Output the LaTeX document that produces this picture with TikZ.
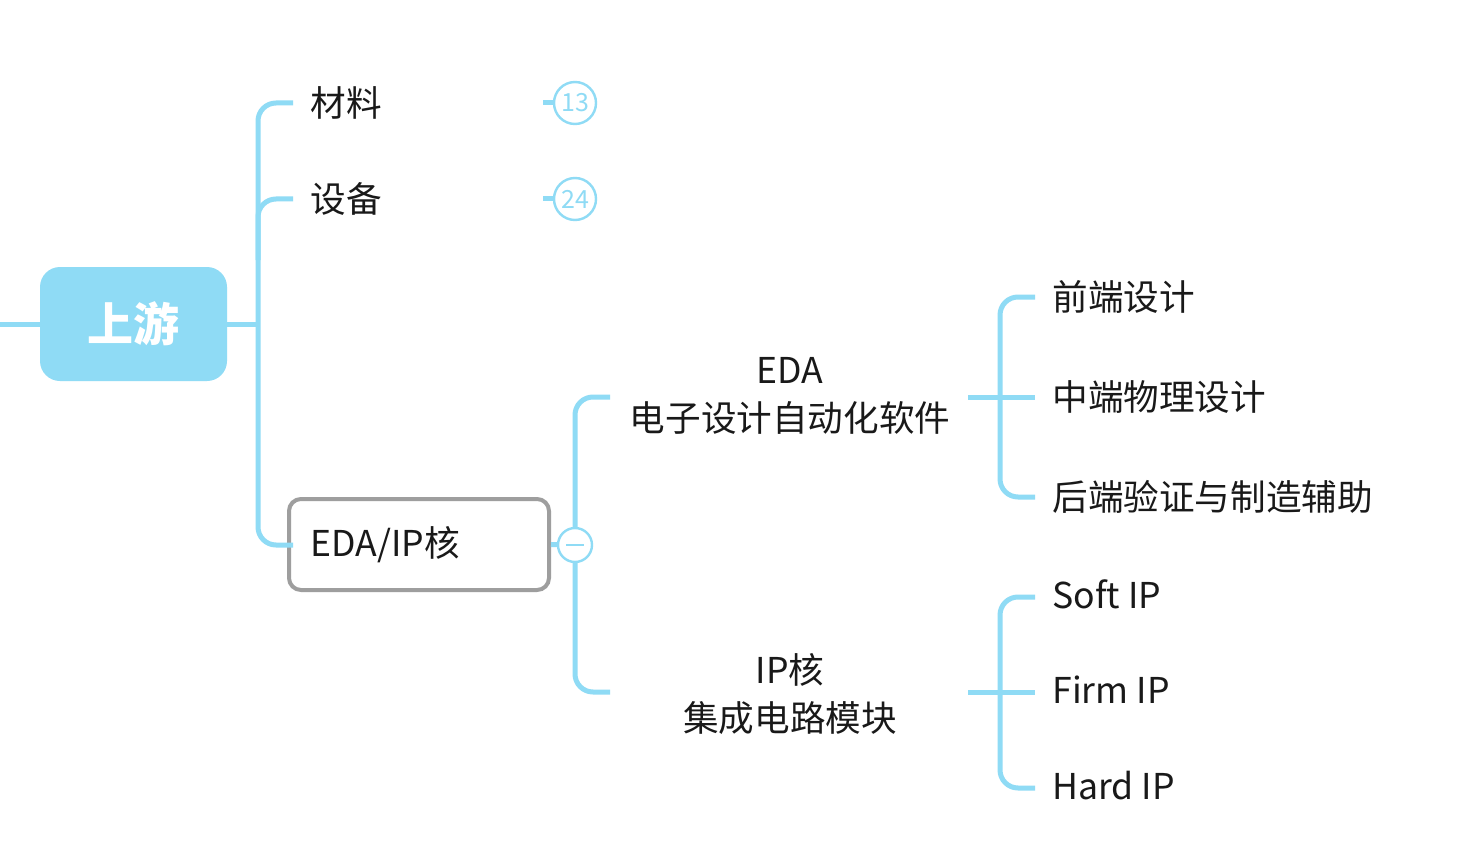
\documentclass[tikz,border=0pt]{standalone}
\usepackage{fontspec}
\setmainfont{Noto Sans CJK SC}
\begin{document}
\begin{tikzpicture}[x=0.5pt,y=-0.5pt,
  ln/.style={draw=lb,line width=2.5pt,rounded corners=9pt},
  txt/.style={font=\fontsize{17.8}{20}\selectfont,anchor=west,inner sep=0pt,text=black!90},
  mid/.style={font=\fontsize{17.8}{24}\selectfont,align=center,inner sep=0pt,text=black!90}]
\definecolor{lb}{HTML}{8FDBF5}
\useasboundingbox (0,0) rectangle (1460,850);
\fill[white] (0,0) rectangle (1460,850);
% root
\node[fill=lb,rounded corners=10pt,minimum width=93.5pt,minimum height=57pt,inner sep=0pt,text=white,font=\fontsize{23}{24}\selectfont\bfseries] (root) at (133.5,324) {上游};
\coordinate (L) at (0,324);
\draw[ln] (L) -- (root.west);
% level 1
\node[txt] (mat) at (310,103) {材料};
\node[txt] (dev) at (310,199) {设备};
\node[draw=black!38,line width=2pt,rounded corners=6pt,minimum width=130pt,minimum height=45.5pt,inner sep=0pt] (eda) at (419,544.5) {};
\node[txt] (edat) at (310,545) {EDA/IP核};
\coordinate (t1) at (293,103);
\coordinate (t2) at (293,199);
\coordinate (t3) at (293,545);
\draw[ln] (root.east) -- (258,324);
\draw[ln] (t1) -- (258,103) -- (258,545) -- (t3);
\draw[ln] (t2) -- (258,199) -- (258,260);
% badges
\foreach \y/\n/\nm in {103/13/b1,199/24/b2}{
  \node[circle,draw=lb,line width=1.2pt,fill=white,minimum size=21pt,inner sep=0pt,text=lb,font=\fontsize{12.5}{12}\selectfont] (\nm) at (575,\y) {\n};
  \coordinate (s\nm) at (543,\y);
  \draw[draw=lb,line width=2.5pt] (s\nm) -- (\nm.west);
}
% collapse
\draw[ln] (eda.east) -- (575,545);
\draw[ln] (610,397) -- (575,397) -- (575,692) -- (610,692);
\node[circle,draw=lb,line width=1.2pt,fill=white,minimum size=17pt,inner sep=0pt] (col) at (575,545) {};
\draw[draw=lb,line width=1.2pt] ([xshift=-4.5pt]col.center) -- ([xshift=4.5pt]col.center);
% level 2
\node[mid] (e1) at (790,396) {EDA\\电子设计自动化软件};
\node[mid] (e2) at (790,694) {IP核\\集成电路模块};
\coordinate (a1) at (968,397);
\coordinate (a2) at (968,692);
\draw[ln] (a1) -- (1000,397);
\draw[ln] (1035,297) -- (1000,297) -- (1000,497) -- (1035,497);
\draw[ln] (1000,397) -- (1035,397);
\draw[ln] (a2) -- (1000,692);
\draw[ln] (1035,597) -- (1000,597) -- (1000,788) -- (1035,788);
\draw[ln] (1000,692) -- (1035,692);
% level 3
\node[txt] (f1) at (1052,297) {前端设计};
\node[txt] (f2) at (1052,397) {中端物理设计};
\node[txt] (f3) at (1052,497) {后端验证与制造辅助};
\node[txt] (g1) at (1052,594) {Soft IP};
\node[txt] (g2) at (1052,690) {Firm IP};
\node[txt] (g3) at (1052,786) {Hard IP};
\end{tikzpicture}
\end{document}
